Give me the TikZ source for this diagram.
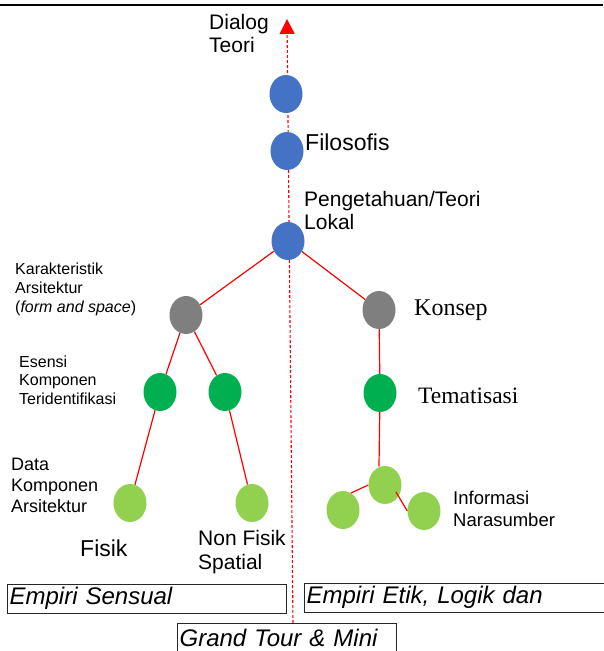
\documentclass[tikz,border=0pt]{standalone}
\usepackage{fontspec}
\setmainfont{Liberation Sans}
\newfontfamily\seriff{Liberation Serif}
\usetikzlibrary{shapes.geometric,arrows.meta,calc}
\definecolor{nblue}{HTML}{4472C4}
\definecolor{ngray}{HTML}{7F7F7F}
\definecolor{ngreen}{HTML}{00B050}
\definecolor{lgreen}{HTML}{92D050}
\definecolor{nred}{HTML}{FF0000}
\newcommand{\fs}[2]{\fontsize{#1}{#2}\selectfont}
\begin{document}
\begin{tikzpicture}[x=1pt,y=-1pt,
  dot/.style={ellipse, minimum width=33pt, minimum height=38pt, inner sep=0pt, draw=none},
  lbl/.style={inner sep=0pt, align=left, anchor=west},
  link/.style={draw=nred, line width=1.2pt},
  ebox/.style={draw=black!85, line width=1.2pt, anchor=north west, inner xsep=2pt, inner ysep=0pt, align=left, minimum height=29pt, font=\fs{24}{26}\itshape}]
\useasboundingbox (0,0) rectangle (603,651);
% top rule
\coordinate (tl) at (0,5);
\coordinate (tr) at (603,5);
\draw[line width=1.2pt] (tl) -- (tr);
% dashed axis
\coordinate (dtop) at (287,19);
\coordinate (dbot) at (293,623);
\draw[nred, line width=1.1pt, dash pattern=on 3pt off 2pt, -{Triangle[width=15pt,length=15pt]}] (dbot) -- (dtop);
% nodes
\node[dot, fill=nblue] (b1) at (286,94) {};
\node[dot, fill=nblue] (b2) at (287,151) {};
\node[dot, fill=nblue] (b3) at (288,241) {};
\node[dot, fill=ngray] (gr) at (379,310) {};
\node[dot, fill=ngray] (gl) at (186,315) {};
\node[dot, fill=ngreen] (g1) at (160,392) {};
\node[dot, fill=ngreen] (g2) at (225,392) {};
\node[dot, fill=ngreen] (g3) at (380,393) {};
\node[dot, fill=lgreen] (l1) at (130,503) {};
\node[dot, fill=lgreen] (l2) at (252,503) {};
\node[dot, fill=lgreen] (l3) at (385,485) {};
\node[dot, fill=lgreen] (l4) at (343,510) {};
\node[dot, fill=lgreen] (l5) at (424,511) {};
\coordinate (l3top) at (379,466.5);
% links
\draw[link] (b3) -- (gl);
\draw[link] (b3) -- (gr);
\draw[link] (gl) -- (g1);
\draw[link] (gl) -- (g2);
\draw[link] (g1) -- (l1);
\draw[link] (g2) -- (l2);
\draw[link] (gr) -- (g3);
\draw[link] (g3) -- (l3top);
\draw[link] (l3.west) -- (l4.65);
\draw[link] ($(l3.center)+(11,7)$) -- (l5.west);
% labels
\node[lbl, font=\fs{21}{23}] (tdialog) at (209,33.5) {Dialog\\Teori};
\node[lbl, font=\fs{23}{25}] (tfilo) at (305,142) {Filosofis};
\node[lbl, font=\fs{21}{23}] (tpeng) at (304,210.5) {Pengetahuan/Teori\\Lokal};
\node[lbl, font=\fs{16}{19}] (tkar) at (15,289) {Karakteristik\\Arsitektur\\(\textit{form and space})};
\node[lbl, font=\fs{16}{18.5}] (tesen) at (19,380) {Esensi\\Komponen\\Teridentifikasi};
\node[lbl, font=\fs{18}{21}] (tdata) at (11,485) {Data\\Komponen\\Arsitektur};
\node[lbl, font=\fs{23}{25}] (tfisik) at (80,548) {Fisik};
\node[lbl, font=\fs{21}{24}] (tnon) at (198,552) {Non Fisik\\Spatial};
\node[lbl, font=\seriff\fs{24}{26}] (tkon) at (414,310) {Konsep};
\node[lbl, font=\seriff\fs{23.5}{26}] (ttema) at (418,396) {Tematisasi};
\node[lbl, font=\fs{18.5}{22}] (tinfo) at (453,509) {Informasi\\Narasumber};
% boxes
\node[ebox, text width=275pt] (bsens) at (7,583.5) {Empiri Sensual};
\node[ebox, text width=320pt] (betik) at (304,582.5) {Empiri Etik, Logik dan};
\node[ebox, text width=215pt, minimum height=28pt] (bgrand) at (177,623) {Grand Tour \& Mini};
\end{tikzpicture}
\end{document}
